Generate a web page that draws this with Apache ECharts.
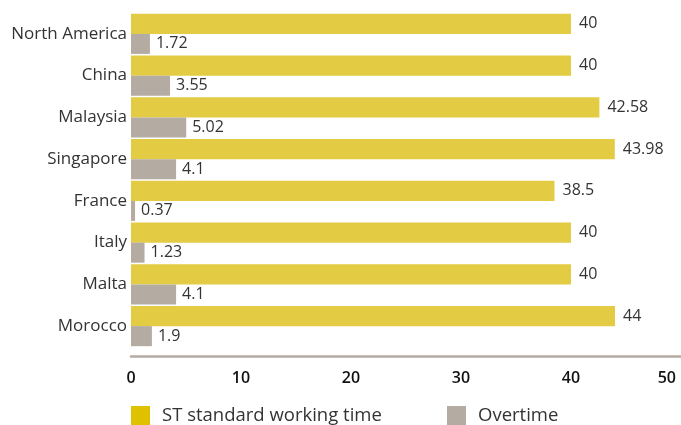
<!DOCTYPE html>
<html><head><meta charset="utf-8">
<script src="https://cdn.jsdelivr.net/npm/echarts@6/dist/echarts.min.js"></script>
<style>html,body{margin:0;padding:0;background:#fff}#c{width:681px;height:425px}</style>
</head><body><div id="c"></div>
<script>
const categories = ['North America','China','Malaysia','Singapore','France','Italy','Malta','Morocco'];
const standardTime = [40, 40, 42.58, 43.98, 38.5, 40, 40, 44];
const overtime = [1.72, 3.55, 5.02, 4.1, 0.37, 1.23, 4.1, 1.9];
const seriesNames = ['ST standard working time', 'Overtime'];
const xTicks = [0, 10, 20, 30, 40, 50];

const FONT = '"Open Sans", "Noto Sans", sans-serif';
const chart = echarts.init(document.getElementById('c'), null, {renderer:'canvas'});
chart.setOption({
  animation:false,
  textStyle:{fontFamily:FONT},
  grid:{left:131, right:-1.5, top:13, bottom:78},
  legend:[
    {left:131, top:406, padding:0, itemWidth:19, itemHeight:19, itemGap:0, icon:'rect',
     data:[{name:seriesNames[0], itemStyle:{color:'#DFC100'}}],
     textStyle:{fontSize:18.5, color:'#333', fontFamily:FONT, padding:[7,0,0,7]}},
    {left:447, top:406, padding:0, itemWidth:19, itemHeight:19, itemGap:0, icon:'rect',
     data:[{name:seriesNames[1], itemStyle:{color:'#B4ABA3'}}],
     textStyle:{fontSize:18.5, color:'#333', fontFamily:FONT, padding:[7,0,0,7]}}
  ],
  xAxis:{type:'value', min:xTicks[0], max:xTicks[xTicks.length-1], interval:10, offset:9,
    axisLine:{show:true, lineStyle:{color:'#B4ABA3', width:2.5}},
    axisTick:{show:false}, splitLine:{show:false},
    axisLabel:{margin:14, color:'#111', fontSize:16, fontWeight:600, fontFamily:FONT,
      alignMaxLabel:'right',
      formatter:v => v === xTicks[xTicks.length-1] ? '{m|'+v+'}' : String(v),
      rich:{m:{padding:[0,5,0,0], color:'#111', fontSize:16, fontWeight:600, fontFamily:FONT}}}
  },
  yAxis:{type:'category', data:categories, inverse:true,
    axisLine:{show:false}, axisTick:{show:false},
    axisLabel:{margin:4, color:'#333', fontSize:17, fontFamily:FONT, padding:[0,0,7,0]}
  },
  series:[
    {name:seriesNames[0], type:'bar', data:standardTime, barGap:'0%', barCategoryGap:'4%',
     itemStyle:{color:'#E3CB44'},
     label:{show:true, position:'right', distance:8, color:'#333', fontSize:16, fontFamily:FONT, padding:[0,0,4,0]}},
    {name:seriesNames[1], type:'bar', data:overtime, barGap:'0%', barCategoryGap:'4%',
     itemStyle:{color:'#B4ABA3'},
     label:{show:true, position:'right', distance:6, color:'#333', fontSize:16, fontFamily:FONT, padding:[5,0,0,0]}}
  ]
});
</script></body></html>
